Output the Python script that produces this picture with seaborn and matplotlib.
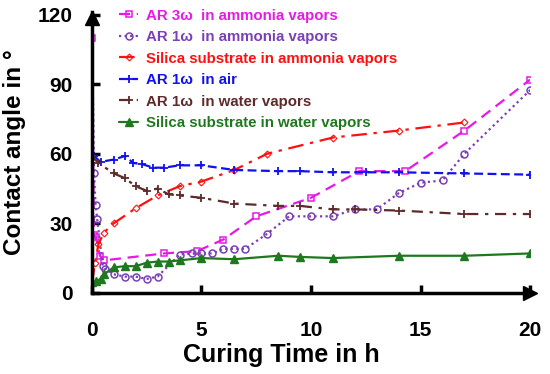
"""
Contact angle vs curing time for AR coatings and silica substrates.
"""

import matplotlib
matplotlib.use('Agg')
import matplotlib.pyplot as plt
import pandas as pd
import seaborn as sns

# AR 3w in ammonia vapors
tempo_ar3_amonia = [0, 0.1, 0.18, 0.37, 0.55, 3.3, 4.8, 6.0, 7.5, 10.0, 12.2, 14.3, 17.0, 20.0]
angulo_ar3_amonia = [110, 25, 24, 16, 14, 17, 18, 23, 33, 41, 52.5, 52.5, 70, 92]

# AR 1w in ammonia vapors
tempo_ar1_amonia = [0, 0.1, 0.17, 0.24, 0.5, 0.6, 1.0, 1.5, 2.0, 2.5, 3.0, 4.0, 4.55, 5.0,
                    5.5, 6.0, 6.5, 7.0, 8.0, 9.0, 10.0, 11.0, 12.0, 13.0, 14.0, 15.0, 16.0,
                    17.0, 20.0]
angulo_ar1_amonia = [118, 51.5, 38, 32, 11.5, 10.5, 8, 7, 7, 6, 7, 16.5, 17, 17,
                     17, 19, 19, 19, 25.5, 33, 33, 33, 36, 36, 43, 47.5, 48.5,
                     60, 87.5]

# Silica substrate in ammonia vapors
tempo_silica_amonia = [0, 0.15, 0.3, 0.55, 1.0, 2.0, 3.0, 4.0, 5.0, 6.5, 8.0, 11.0, 14.0, 17.0]
angulo_silica_amonia = [4, 13, 21, 26, 30, 36.5, 42, 46, 48, 53, 60, 67, 70, 73.5]

# AR 1w in air
tempo_ar1_ar = [0.1, 0.4, 1.0, 1.5, 1.9, 2.3, 2.8, 3.3, 4.0, 5.0, 6.5, 8.5, 9.5, 11.0,
                12.5, 14.0, 17.0, 20.0]
angulo_ar1_ar = [59, 56.5, 57.5, 59, 56, 55.5, 54, 54, 55, 55, 53, 52.5, 52.5, 52,
                 52, 52, 51.5, 51]

# AR 1w in water vapors
tempo_ar1_agua = [0, 0.3, 1.0, 1.5, 2.0, 2.5, 3.0, 3.5, 4.0, 5.0, 6.5, 8.5, 9.5, 11.0,
                  12.0, 14.0, 17.0, 20.0]
angulo_ar1_agua = [59, 56, 51.5, 49.5, 46, 44, 45, 42.5, 42, 41, 38.5, 37.5, 37.5, 36,
                   36, 35.5, 34, 34]

# Silica substrate in water vapors
tempo_silica_agua = [0, 0.2, 0.4, 0.55, 1.0, 1.5, 2.0, 2.5, 3.0, 3.5, 4.0, 5.0, 6.5, 8.5,
                     9.5, 11.0, 14.0, 17.0, 20.0]
angulo_silica_agua = [4.5, 5, 6, 8, 11, 11.5, 11.5, 13, 13.5, 13.5, 14, 15, 14.5, 16,
                      15.5, 15, 16, 16, 17]

rotulos = [
    'AR 3ω  in ammonia vapors',
    'AR 1ω  in ammonia vapors',
    'Silica substrate in ammonia vapors',
    'AR 1ω  in air',
    'AR 1ω  in water vapors',
    'Silica substrate in water vapors',
]


def desenhar_series(ax):
    """Desenha as seis curvas com seaborn."""
    series = [
        (tempo_ar3_amonia, angulo_ar3_amonia, '#E619E6',
         dict(marker='s', mfc='none', ms=5, mew=1.1, ls=(0, (5, 3)))),
        (tempo_ar1_amonia, angulo_ar1_amonia, '#7B3FB8',
         dict(marker='o', mfc='none', ms=5, mew=1.1, ls=(0, (1, 1.5)))),
        (tempo_silica_amonia, angulo_silica_amonia, '#FF1010',
         dict(marker='D', mfc='none', ms=3.5, mew=0.8, ls=(0, (7, 3, 1.5, 3)))),
        (tempo_ar1_ar, angulo_ar1_ar, '#1010F0',
         dict(marker='+', ms=6, mew=1.3, ls=(0, (4, 2)))),
        (tempo_ar1_agua, angulo_ar1_agua, '#5E2A2A',
         dict(marker='+', ms=6, mew=1.3, ls=(0, (5, 3, 1.5, 3)))),
        (tempo_silica_agua, angulo_silica_agua, '#1E781E',
         dict(marker='^', ms=5.5, mew=1.0, ls='-')),
    ]
    for (x, y, cor, estilo), rotulo in zip(series, rotulos):
        df = pd.DataFrame({'tempo': x, 'angulo': y})
        sns.lineplot(data=df, x='tempo', y='angulo', ax=ax, estimator=None, sort=False,
                     lw=1.6, color=cor, mec=cor, label=rotulo, **estilo)
    return [s[2] for s in series]


def main():
    sns.set_style('ticks')
    plt.rcParams['font.family'] = ['Liberation Sans', 'DejaVu Sans']
    plt.rcParams['font.weight'] = 'bold'

    fig = plt.figure(figsize=(5.5, 3.74), dpi=100)
    ax = fig.add_axes([0.167, 0.217, 0.797, 0.75])

    cores = desenhar_series(ax)

    ax.set_xlim(0, 20)
    ax.set_ylim(0, 121)
    ax.set_xticks([0, 5, 10, 15, 20])
    ax.set_yticks([0, 30, 60, 90, 120])

    # Eixos com setas
    sns.despine(ax=ax)
    for lado in ['left', 'bottom']:
        ax.spines[lado].set_linewidth(2.5)
        ax.spines[lado].set_color('black')
    ax.plot(1, 0, '>', color='black', ms=10, transform=ax.transAxes, clip_on=False)
    ax.plot(0, 0.98, '^', color='black', ms=10, transform=ax.transAxes, clip_on=False)

    ax.tick_params(axis='both', direction='in', length=6, width=2.5, labelsize=15,
                   colors='black')
    ax.tick_params(axis='x', pad=20)
    ax.tick_params(axis='y', pad=14)
    for t in ax.get_xticklabels() + ax.get_yticklabels():
        t.set_fontweight('bold')

    ax.set_xlabel('Curing Time in h', fontsize=18, fontweight='bold', color='black')
    ax.set_ylabel('Contact angle in °', fontsize=17.5, fontweight='bold', color='black',
                  labelpad=8)
    # rotulo do eixo x deslocado para a esquerda como no original
    ax.xaxis.set_label_coords(0.433, -0.18)

    leg = ax.legend(loc='upper left', bbox_to_anchor=(0.048, 1.035), frameon=False,
                    prop={'size': 10.8, 'weight': 'bold'}, handlelength=1.3,
                    handletextpad=0.5, labelspacing=0.5, borderaxespad=0)
    for texto, cor in zip(leg.get_texts(), cores):
        texto.set_color(cor)

    fig.savefig('out.png', dpi=100)
    plt.close(fig)


if __name__ == '__main__':
    main()
